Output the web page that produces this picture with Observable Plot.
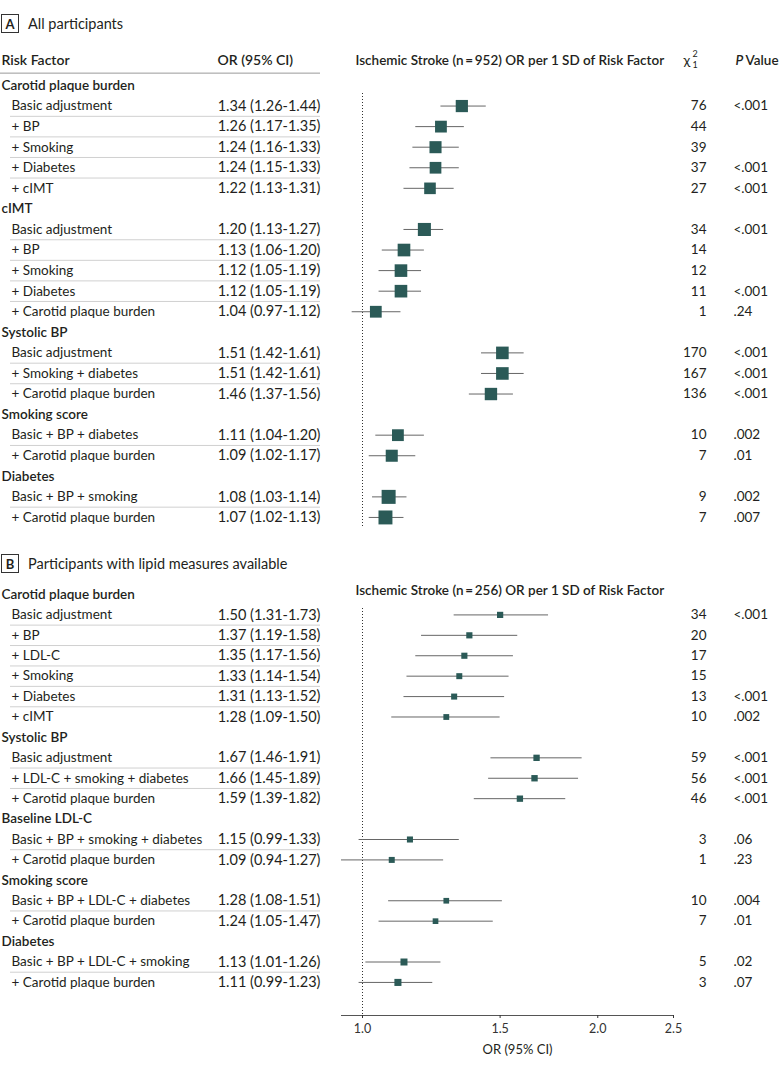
<!DOCTYPE html>
<html><head><meta charset="utf-8">
<script src="https://cdn.jsdelivr.net/npm/d3@7"></script>
<script src="https://cdn.jsdelivr.net/npm/@observablehq/plot@0.6"></script>
<style>
body{margin:0;background:#fff;font-family:Lato,sans-serif;color:#231f20}
#wrap{position:relative;width:783px;height:1067px;overflow:hidden}
.plab{position:absolute;left:1px;display:flex;align-items:center;font-size:14.5px}
.plab .box{border:1px solid #333;width:18px;height:19px;display:flex;align-items:center;justify-content:center;font-weight:700;font-size:13px;margin-right:9px;box-sizing:border-box}
#pa{position:absolute;left:0;top:40px}
#pb{position:absolute;left:0;top:578px}
</style></head><body>
<div id="wrap">
<div class="plab" style="top:14px"><span class="box">A</span>All participants</div>
<div id="pa"></div>
<div class="plab" style="top:554px"><span class="box">B</span>Participants with lipid measures available</div>
<div id="pb"></div>
</div>
<script>
// ---------- Panel A data ----------
const groupsA = ["Carotid plaque burden","Carotid plaque burden","Carotid plaque burden","Carotid plaque burden","Carotid plaque burden",
  "cIMT","cIMT","cIMT","cIMT","cIMT",
  "Systolic BP","Systolic BP","Systolic BP",
  "Smoking score","Smoking score",
  "Diabetes","Diabetes"];
const labelsA = ["Basic adjustment","+ BP","+ Smoking","+ Diabetes","+ cIMT",
  "Basic adjustment","+ BP","+ Smoking","+ Diabetes","+ Carotid plaque burden",
  "Basic adjustment","+ Smoking + diabetes","+ Carotid plaque burden",
  "Basic + BP + diabetes","+ Carotid plaque burden",
  "Basic + BP + smoking","+ Carotid plaque burden"];
const orA = [1.34,1.26,1.24,1.24,1.22, 1.20,1.13,1.12,1.12,1.04, 1.51,1.51,1.46, 1.11,1.09, 1.08,1.07];
const loA = [1.26,1.17,1.16,1.15,1.13, 1.13,1.06,1.05,1.05,0.97, 1.42,1.42,1.37, 1.04,1.02, 1.03,1.02];
const hiA = [1.44,1.35,1.33,1.33,1.31, 1.27,1.20,1.19,1.19,1.12, 1.61,1.61,1.56, 1.20,1.17, 1.14,1.13];
const chiA = ["76","44","39","37","27", "34","14","12","11","1", "170","167","136", "10","7", "9","7"];
const pA = ["<.001","","","<.001","<.001", "<.001","","","<.001",".24", "<.001","<.001","<.001", ".002",".01", ".002",".007"];

// ---------- Panel B data ----------
const groupsB = ["Carotid plaque burden","Carotid plaque burden","Carotid plaque burden","Carotid plaque burden","Carotid plaque burden","Carotid plaque burden",
  "Systolic BP","Systolic BP","Systolic BP",
  "Baseline LDL-C","Baseline LDL-C",
  "Smoking score","Smoking score",
  "Diabetes","Diabetes"];
const labelsB = ["Basic adjustment","+ BP","+ LDL-C","+ Smoking","+ Diabetes","+ cIMT",
  "Basic adjustment","+ LDL-C + smoking + diabetes","+ Carotid plaque burden",
  "Basic + BP + smoking + diabetes","+ Carotid plaque burden",
  "Basic + BP + LDL-C + diabetes","+ Carotid plaque burden",
  "Basic + BP + LDL-C + smoking","+ Carotid plaque burden"];
const orB = [1.50,1.37,1.35,1.33,1.31,1.28, 1.67,1.66,1.59, 1.15,1.09, 1.28,1.24, 1.13,1.11];
const loB = [1.31,1.19,1.17,1.14,1.13,1.09, 1.46,1.45,1.39, 0.99,0.94, 1.08,1.05, 1.01,0.99];
const hiB = [1.73,1.58,1.56,1.54,1.52,1.50, 1.91,1.89,1.82, 1.33,1.27, 1.51,1.47, 1.26,1.23];
const chiB = ["34","20","17","15","13","10", "59","56","46", "3","1", "10","7", "5","3"];
const pB = ["<.001","","","","<.001",".002", "<.001","<.001","<.001", ".06",".23", ".004",".01", ".02",".07"];

const xTicks = [1.0, 1.5, 2.0, 2.5];

// ---------- build table rows ----------
function buildRows(groups, labels, or, lo, hi, chi, p) {
  const rows = []; let idx = 0;
  groups.forEach((g, i) => {
    const first = i === 0 || groups[i - 1] !== g;
    if (first) rows.push({type: "group", idx: idx++, label: g});
    rows.push({type: "item", idx: idx++, label: labels[i], or: or[i], lo: lo[i], hi: hi[i],
      chi: chi[i], p: p[i], first, prec: 1 / Math.log(hi[i] / lo[i]),
      ci: `${or[i].toFixed(2)} (${lo[i].toFixed(2)}-${hi[i].toFixed(2)})`});
  });
  return rows;
}

const INK = "#231f20", TEAL = "#2b5a57", FONT = "Lato, sans-serif";
const W = 783, ML = 341, MR = 110;

function tableMarks(rows) {
  const groups = rows.filter(d => d.type === "group");
  const items = rows.filter(d => d.type === "item");
  const seps = items.filter(d => !d.first);
  return [
    Plot.ruleY(seps, {y: d => d.idx - 0.5, stroke: "#d0d0d0", strokeWidth: 1, insetLeft: -(ML - 10), insetRight: (W - MR) - 320}),
    Plot.text(groups, {y: "idx", text: "label", frameAnchor: "left", dx: -(ML - 1), textAnchor: "start", fontWeight: 600, fontSize: 13.5, fill: INK}),
    Plot.text(items, {y: "idx", text: "label", frameAnchor: "left", dx: -(ML - 11), textAnchor: "start", fontSize: 13.5, fill: INK}),
    Plot.text(items, {y: "idx", text: "ci", frameAnchor: "left", dx: 320 - ML, textAnchor: "end", fontSize: 14.5, fill: INK}),
    Plot.text(items, {y: "idx", text: "chi", frameAnchor: "right", dx: 706 - (W - MR), textAnchor: "end", fontSize: 13.5, fill: INK}),
    Plot.text(items, {y: "idx", text: "p", frameAnchor: "right", dx: 733 - (W - MR), textAnchor: "start", fontSize: 13.5, fill: INK}),
    Plot.ruleX([1], {stroke: "#333", strokeDasharray: "1,2", strokeWidth: 1}),
    Plot.ruleY(items, {y: "idx", x1: "lo", x2: "hi", stroke: "#666", strokeWidth: 1}),
    Plot.dot(items, {y: "idx", x: "or", r: "prec", symbol: "square", fill: TEAL, stroke: "none"})
  ];
}

// ---------- Panel A ----------
const rowsA = buildRows(groupsA, labelsA, orA, loA, hiA, chiA, pA);
const plotA = Plot.plot({
  width: W, height: 500, marginLeft: ML, marginRight: MR, marginTop: 53, marginBottom: 14,
  style: {fontFamily: FONT, background: "white", color: INK, overflow: "visible"},
  x: {type: "log", domain: [0.94, 2.5], axis: null},
  y: {type: "linear", domain: [0.39, 21.44], reverse: true, axis: null},
  r: {type: "sqrt", domain: [0, 10], range: [0, 7.96], clamp: false},
  marks: [
    Plot.ruleY([-0.6], {stroke: "#999", strokeWidth: 1, insetLeft: -ML, insetRight: (W - MR) - 320}),
    Plot.text(["Risk Factor"], {frameAnchor: "top-left", dx: -(ML - 1), dy: -33, textAnchor: "start", lineAnchor: "middle", fontWeight: 600, fontSize: 14, fill: INK}),
    Plot.text(["OR (95% CI)"], {frameAnchor: "top-left", dx: 217 - ML, dy: -33, textAnchor: "start", lineAnchor: "middle", fontWeight: 600, fontSize: 14, fill: INK}),
    Plot.text(["Ischemic Stroke (n\u2009=\u2009952) OR per 1 SD of Risk Factor"], {frameAnchor: "top-left", dx: 355 - ML, dy: -33, textAnchor: "start", lineAnchor: "middle", fontWeight: 600, fontSize: 13.5, fill: INK}),
    Plot.text(["\u03c7"], {frameAnchor: "top-right", dx: 683 - (W - MR), dy: -33, textAnchor: "start", lineAnchor: "middle", fontSize: 14, fill: INK}),
    Plot.text(["2"], {frameAnchor: "top-right", dx: 692 - (W - MR), dy: -39, textAnchor: "start", lineAnchor: "middle", fontSize: 9, fill: INK}),
    Plot.text(["1"], {frameAnchor: "top-right", dx: 692 - (W - MR), dy: -28, textAnchor: "start", lineAnchor: "middle", fontSize: 9, fill: INK}),
    Plot.text(["P"], {frameAnchor: "top-right", dx: 735 - (W - MR), dy: -33, textAnchor: "start", lineAnchor: "middle", fontWeight: 600, fontStyle: "italic", fontSize: 13.5, fill: INK}),
    Plot.text(["Value"], {frameAnchor: "top-right", dx: 745 - (W - MR), dy: -33, textAnchor: "start", lineAnchor: "middle", fontWeight: 600, fontSize: 13.5, fill: INK}),
    ...tableMarks(rowsA)
  ]
});
document.getElementById("pa").append(plotA);

// ---------- Panel B ----------
const rowsB = buildRows(groupsB, labelsB, orB, loB, hiB, chiB, pB);
const yDomB = [0.686, 20.62];
const plotB = Plot.plot({
  width: W, height: 482, marginLeft: ML, marginRight: MR, marginTop: 30, marginBottom: 45,
  style: {fontFamily: FONT, background: "white", color: INK, overflow: "visible"},
  x: {type: "log", domain: [0.94, 2.5]},
  y: {type: "linear", domain: yDomB, reverse: true, axis: null},
  r: {type: "sqrt", domain: [0, 10], range: [0, 5.87], clamp: false},
  marks: [
    Plot.text(["Ischemic Stroke (n\u2009=\u2009256) OR per 1 SD of Risk Factor"], {frameAnchor: "top-left", dx: 355 - ML, dy: -18, textAnchor: "start", lineAnchor: "middle", fontWeight: 600, fontSize: 13.5, fill: INK}),
    ...tableMarks(rowsB),
    Plot.ruleY([yDomB[1]], {stroke: "#555", strokeWidth: 1}),
    Plot.axisX({ticks: xTicks, tickFormat: d => d.toFixed(1), tickSize: 3, tickPadding: 6, label: null, fontSize: 12.5, color: "#333"}),
    Plot.text(["OR (95% CI)"], {frameAnchor: "bottom", dx: 10, dy: 34, lineAnchor: "middle", fontSize: 13, fill: INK})
  ]
});
document.getElementById("pb").append(plotB);
</script>
</body></html>
